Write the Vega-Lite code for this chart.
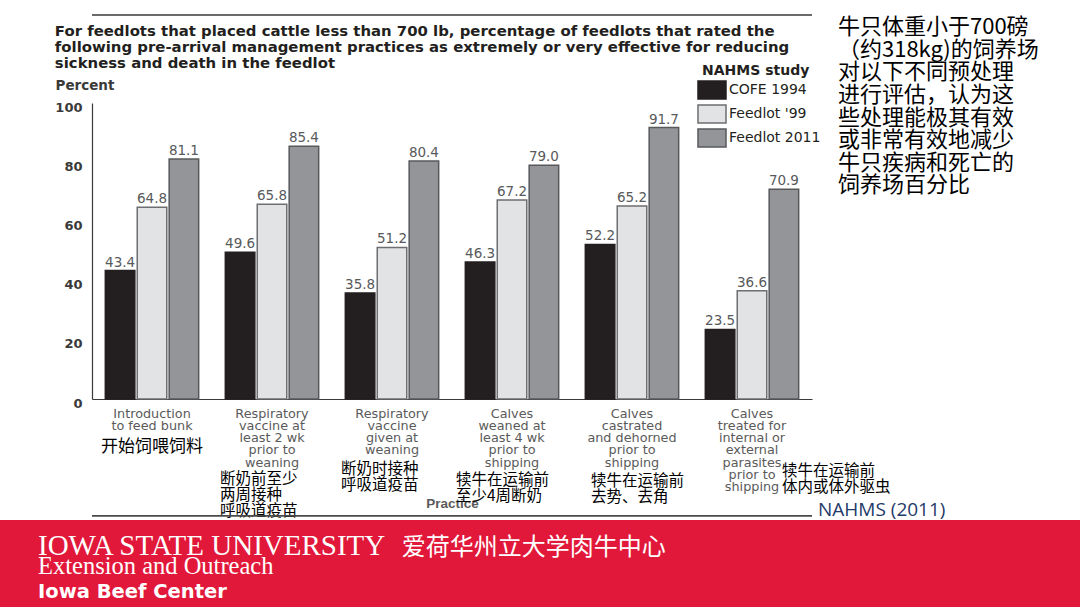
{
  "$schema": "https://vega.github.io/schema/vega-lite/v6.json",
  "background": "white",
  "padding": {"top": 14, "left": 0, "right": 0, "bottom": 0},
  "autosize": {"type": "pad"},
  "spacing": 0,
  "config": {"view": {"stroke": null}, "font": "DejaVu Sans"},
  "datasets": {
    "bars": [
      {"practice": "Introduction|to feed bunk", "study": "COFE 1994", "value": 43.4},
      {"practice": "Introduction|to feed bunk", "study": "Feedlot '99", "value": 64.8},
      {"practice": "Introduction|to feed bunk", "study": "Feedlot 2011", "value": 81.1},
      {"practice": "Respiratory|vaccine at|least 2 wk|prior to|weaning", "study": "COFE 1994", "value": 49.6},
      {"practice": "Respiratory|vaccine at|least 2 wk|prior to|weaning", "study": "Feedlot '99", "value": 65.8},
      {"practice": "Respiratory|vaccine at|least 2 wk|prior to|weaning", "study": "Feedlot 2011", "value": 85.4},
      {"practice": "Respiratory|vaccine|given at|weaning", "study": "COFE 1994", "value": 35.8},
      {"practice": "Respiratory|vaccine|given at|weaning", "study": "Feedlot '99", "value": 51.2},
      {"practice": "Respiratory|vaccine|given at|weaning", "study": "Feedlot 2011", "value": 80.4},
      {"practice": "Calves|weaned at|least 4 wk|prior to|shipping", "study": "COFE 1994", "value": 46.3},
      {"practice": "Calves|weaned at|least 4 wk|prior to|shipping", "study": "Feedlot '99", "value": 67.2},
      {"practice": "Calves|weaned at|least 4 wk|prior to|shipping", "study": "Feedlot 2011", "value": 79.0},
      {"practice": "Calves|castrated|and dehorned|prior to|shipping", "study": "COFE 1994", "value": 52.2},
      {"practice": "Calves|castrated|and dehorned|prior to|shipping", "study": "Feedlot '99", "value": 65.2},
      {"practice": "Calves|castrated|and dehorned|prior to|shipping", "study": "Feedlot 2011", "value": 91.7},
      {"practice": "Calves|treated for|internal or|external|parasites|prior to|shipping", "study": "COFE 1994", "value": 23.5},
      {"practice": "Calves|treated for|internal or|external|parasites|prior to|shipping", "study": "Feedlot '99", "value": 36.6},
      {"practice": "Calves|treated for|internal or|external|parasites|prior to|shipping", "study": "Feedlot 2011", "value": 70.9}
    ],
    "zh": [
      {"practice": "Introduction|to feed bunk", "zh": "开始饲喂饲料"},
      {"practice": "Respiratory|vaccine at|least 2 wk|prior to|weaning", "zh": "断奶前至少\n两周接种\n呼吸道疫苗"},
      {"practice": "Respiratory|vaccine|given at|weaning", "zh": "断奶时接种\n呼吸道疫苗"},
      {"practice": "Calves|weaned at|least 4 wk|prior to|shipping", "zh": "犊牛在运输前\n至少4周断奶"},
      {"practice": "Calves|castrated|and dehorned|prior to|shipping", "zh": "犊牛在运输前\n去势、去角"},
      {"practice": "Calves|treated for|internal or|external|parasites|prior to|shipping", "zh": "犊牛在运输前\n体内或体外驱虫"}
    ]
  },
  "vconcat": [
    {
      "bounds": "flush",
      "spacing": 6,
      "hconcat": [
        {
          "width": 86,
          "height": 10,
          "data": {"values": [{}]},
          "mark": {"type": "text"},
          "encoding": {"text": {"value": ""}}
        },
        {
          "width": 720,
          "height": 296,
          "title": {
            "text": [
              "For feedlots that placed cattle less than 700 lb, percentage of feedlots that rated the",
              "following pre-arrival management practices as extremely or very effective for reducing",
              "sickness and death in the feedlot"
            ],
            "anchor": "start",
            "frame": "bounds",
            "font": "DejaVu Sans",
            "fontSize": 14.9,
            "fontWeight": "bold",
            "color": "#231f20",
            "lineHeight": 16,
            "offset": -57
          },
          "layer": [
            {
              "data": {"name": "bars"},
              "mark": {"type": "bar", "strokeWidth": 1.5},
              "encoding": {
                "x": {
                  "field": "practice",
                  "type": "nominal",
                  "scale": {
                    "domain": [
                      "Introduction|to feed bunk",
                      "Respiratory|vaccine at|least 2 wk|prior to|weaning",
                      "Respiratory|vaccine|given at|weaning",
                      "Calves|weaned at|least 4 wk|prior to|shipping",
                      "Calves|castrated|and dehorned|prior to|shipping",
                      "Calves|treated for|internal or|external|parasites|prior to|shipping"
                    ],
                    "paddingInner": 0.222,
                    "paddingOuter": 0.111
                  },
                  "axis": {
                    "title": "Practice",
                    "labelExpr": "split(datum.label, '|')",
                    "labelFont": "DejaVu Sans",
                    "labelFontSize": 12.8,
                    "labelColor": "#5a5a5a",
                    "labelLineHeight": 12.3,
                    "labelPadding": 8,
                    "labelAngle": 0,
                    "labelOverlap": false,
                    "labelBound": false,
                    "ticks": false,
                    "tickSize": 0,
                    "domainColor": "#3a3a3a",
                    "domainWidth": 1.2,
                    "titleFont": "Liberation Sans",
                    "titleFontSize": 13.5,
                    "titleFontWeight": "bold",
                    "titleColor": "#5a5a5a",
                    "titlePadding": 3
                  }
                },
                "xOffset": {
                  "field": "study",
                  "type": "nominal",
                  "scale": {"domain": ["COFE 1994", "Feedlot '99", "Feedlot 2011"], "paddingInner": 0.075, "paddingOuter": 0}
                },
                "y": {
                  "field": "value",
                  "type": "quantitative",
                  "scale": {"domain": [0, 100], "nice": false},
                  "axis": {
                    "values": [0, 20, 40, 60, 80, 100],
                    "title": "Percent",
                    "titleAngle": 0,
                    "titleX": -37,
                    "titleY": -18,
                    "titleAlign": "left",
                    "titleBaseline": "middle",
                    "titleFont": "DejaVu Sans",
                    "titleFontWeight": "bold",
                    "titleFontSize": 13.5,
                    "titleColor": "#3a3a3a",
                    "labelFont": "DejaVu Sans",
                    "labelFontWeight": "bold",
                    "labelFontSize": 13,
                    "labelColor": "#3a3a3a",
                    "labelPadding": 10,
                    "labelOffset": 4,
                    "ticks": false,
                    "tickSize": 0,
                    "grid": false,
                    "domainColor": "#3a3a3a",
                    "domainWidth": 1.2
                  }
                },
                "fill": {
                  "field": "study",
                  "type": "nominal",
                  "scale": {"domain": ["COFE 1994", "Feedlot '99", "Feedlot 2011"], "range": ["#231f20", "#e2e3e4", "#939598"]},
                  "legend": {
                    "title": "NAHMS study",
                    "orient": "none",
                    "legendX": 702,
                    "legendY": -39,
                    "symbolType": "M-1.556,-1H1.556V1H-1.556Z",
                    "symbolSize": 324,
                    "symbolStrokeWidth": 1.5,
                    "titleFont": "DejaVu Sans",
                    "titleFontSize": 14,
                    "titleFontWeight": "bold",
                    "titleColor": "#231f20",
                    "titlePadding": 2,
                    "labelFont": "DejaVu Sans",
                    "labelFontSize": 14,
                    "labelColor": "#231f20",
                    "labelOffset": 7,
                    "rowPadding": 0,
                    "padding": 0
                  }
                },
                "stroke": {
                  "field": "study",
                  "type": "nominal",
                  "scale": {"domain": ["COFE 1994", "Feedlot '99", "Feedlot 2011"], "range": ["#231f20", "#6d6e70", "#58595b"]},
                  "legend": {
                    "title": "NAHMS study",
                    "orient": "none",
                    "legendX": 702,
                    "legendY": -39,
                    "symbolType": "M-1.556,-1H1.556V1H-1.556Z",
                    "symbolSize": 324,
                    "symbolStrokeWidth": 1.5,
                    "titleFont": "DejaVu Sans",
                    "titleFontSize": 14,
                    "titleFontWeight": "bold",
                    "titleColor": "#231f20",
                    "titlePadding": 2,
                    "labelFont": "DejaVu Sans",
                    "labelFontSize": 14,
                    "labelColor": "#231f20",
                    "labelOffset": 7,
                    "rowPadding": 0,
                    "padding": 0
                  }
                }
              }
            },
            {
              "data": {"name": "bars"},
              "mark": {"type": "text", "baseline": "alphabetic", "dy": -4, "font": "DejaVu Sans", "fontSize": 13.5, "color": "#58595b"},
              "encoding": {
                "x": {"field": "practice", "type": "nominal"},
                "xOffset": {"field": "study", "type": "nominal"},
                "y": {"field": "value", "type": "quantitative"},
                "text": {"field": "value", "type": "quantitative", "format": ".1f"}
              }
            },
            {
              "data": {"name": "zh"},
              "transform": [{"filter": {"field": "practice", "equal": "Introduction|to feed bunk"}}],
              "mark": {"type": "text", "align": "center", "baseline": "top", "lineBreak": "\n", "font": "Noto Sans CJK SC", "fontSize": 17, "lineHeight": 16, "color": "#000000"},
              "encoding": {"x": {"field": "practice", "type": "nominal"}, "y": {"datum": -13.6}, "text": {"field": "zh"}}
            },
            {
              "data": {"name": "zh"},
              "transform": [{"filter": {"field": "practice", "equal": "Respiratory|vaccine at|least 2 wk|prior to|weaning"}}],
              "mark": {"type": "text", "align": "left", "dx": -52, "baseline": "top", "lineBreak": "\n", "font": "Noto Sans CJK SC", "fontSize": 15.5, "lineHeight": 16, "color": "#000000"},
              "encoding": {"x": {"field": "practice", "type": "nominal"}, "y": {"datum": -24.5}, "text": {"field": "zh"}}
            },
            {
              "data": {"name": "zh"},
              "transform": [{"filter": {"field": "practice", "equal": "Respiratory|vaccine|given at|weaning"}}],
              "mark": {"type": "text", "align": "left", "dx": -51, "baseline": "top", "lineBreak": "\n", "font": "Noto Sans CJK SC", "fontSize": 15.5, "lineHeight": 16.5, "color": "#000000"},
              "encoding": {"x": {"field": "practice", "type": "nominal"}, "y": {"datum": -21.2}, "text": {"field": "zh"}}
            },
            {
              "data": {"name": "zh"},
              "transform": [{"filter": {"field": "practice", "equal": "Calves|weaned at|least 4 wk|prior to|shipping"}}],
              "mark": {"type": "text", "align": "left", "dx": -56, "baseline": "top", "lineBreak": "\n", "font": "Noto Sans CJK SC", "fontSize": 15.5, "lineHeight": 16, "color": "#000000"},
              "encoding": {"x": {"field": "practice", "type": "nominal"}, "y": {"datum": -25.0}, "text": {"field": "zh"}}
            },
            {
              "data": {"name": "zh"},
              "transform": [{"filter": {"field": "practice", "equal": "Calves|castrated|and dehorned|prior to|shipping"}}],
              "mark": {"type": "text", "align": "left", "dx": -41, "baseline": "top", "lineBreak": "\n", "font": "Noto Sans CJK SC", "fontSize": 15.5, "lineHeight": 16, "color": "#000000"},
              "encoding": {"x": {"field": "practice", "type": "nominal"}, "y": {"datum": -25.2}, "text": {"field": "zh"}}
            },
            {
              "data": {"name": "zh"},
              "transform": [{"filter": {"field": "practice", "equal": "Calves|treated for|internal or|external|parasites|prior to|shipping"}}],
              "mark": {"type": "text", "align": "left", "dx": 30, "baseline": "top", "lineBreak": "\n", "font": "Noto Sans CJK SC", "fontSize": 15.5, "lineHeight": 16, "color": "#000000"},
              "encoding": {"x": {"field": "practice", "type": "nominal"}, "y": {"datum": -21.8}, "text": {"field": "zh"}}
            },
            {
              "data": {"values": [{}]},
              "mark": {"type": "rule", "color": "#6a6a6a", "strokeWidth": 2},
              "encoding": {"y": {"datum": 129.7}}
            },
            {
              "data": {"values": [{}]},
              "mark": {"type": "rule", "color": "#4a4a4a", "strokeWidth": 1.6},
              "encoding": {"y": {"datum": -39.5}}
            }
          ]
        },
        {
          "width": 240,
          "height": 296,
          "layer": [
            {
              "data": {"values": [{"t": "牛只体重小于700磅\n（约318kg)的饲养场\n对以下不同预处理\n进行评估，认为这\n些处理能极其有效\n或非常有效地减少\n牛只疾病和死亡的\n饲养场百分比"}]},
              "mark": {"type": "text", "align": "left", "baseline": "top", "lineBreak": "\n", "font": "Noto Sans CJK SC", "fontSize": 22, "lineHeight": 22.6, "color": "#000000"},
              "encoding": {
                "text": {"field": "t"},
                "x": {"datum": 8.33, "type": "quantitative", "scale": {"domain": [0, 100]}, "axis": null},
                "y": {"datum": 129.0, "type": "quantitative", "scale": {"domain": [0, 100], "nice": false}, "axis": null}
              }
            },
            {
              "data": {"values": [{"t": "NAHMS (2011)"}]},
              "mark": {"type": "text", "align": "left", "baseline": "middle", "font": "Open Sans", "fontSize": 19, "color": "#1f3a6a"},
              "encoding": {
                "text": {"field": "t"},
                "x": {"datum": 0, "type": "quantitative"},
                "y": {"datum": -37.5, "type": "quantitative"}
              }
            }
          ]
        }
      ]
    },
    {
      "width": 1080,
      "height": 87,
      "view": {"fill": "#e2183a", "stroke": null},
      "layer": [
        {
          "data": {"values": [{"t": "IOWA STATE UNIVERSITY"}]},
          "mark": {"type": "text", "align": "left", "baseline": "alphabetic", "font": "Liberation Serif", "fontSize": 29, "color": "#ffffff"},
          "encoding": {
            "text": {"field": "t"},
            "x": {"datum": 3.52, "type": "quantitative", "scale": {"domain": [0, 100]}, "axis": null},
            "y": {"datum": 40.2, "type": "quantitative", "scale": {"domain": [0, 100], "reverse": true, "nice": false}, "axis": null}
          }
        },
        {
          "data": {"values": [{"t": "爱荷华州立大学肉牛中心"}]},
          "mark": {"type": "text", "align": "left", "baseline": "middle", "font": "Noto Sans CJK SC", "fontSize": 24, "color": "#ffffff"},
          "encoding": {
            "text": {"field": "t"},
            "x": {"datum": 37.2, "type": "quantitative"},
            "y": {"datum": 32.2, "type": "quantitative"}
          }
        },
        {
          "data": {"values": [{"t": "Extension and Outreach"}]},
          "mark": {"type": "text", "align": "left", "baseline": "alphabetic", "font": "Liberation Serif", "fontSize": 24.5, "color": "#ffffff"},
          "encoding": {
            "text": {"field": "t"},
            "x": {"datum": 3.52, "type": "quantitative"},
            "y": {"datum": 62.1, "type": "quantitative"}
          }
        },
        {
          "data": {"values": [{"t": "Iowa Beef Center"}]},
          "mark": {"type": "text", "align": "left", "baseline": "alphabetic", "font": "DejaVu Sans", "fontWeight": "bold", "fontSize": 19.5, "color": "#ffffff"},
          "encoding": {
            "text": {"field": "t"},
            "x": {"datum": 3.52, "type": "quantitative"},
            "y": {"datum": 90.2, "type": "quantitative"}
          }
        }
      ]
    }
  ]
}
